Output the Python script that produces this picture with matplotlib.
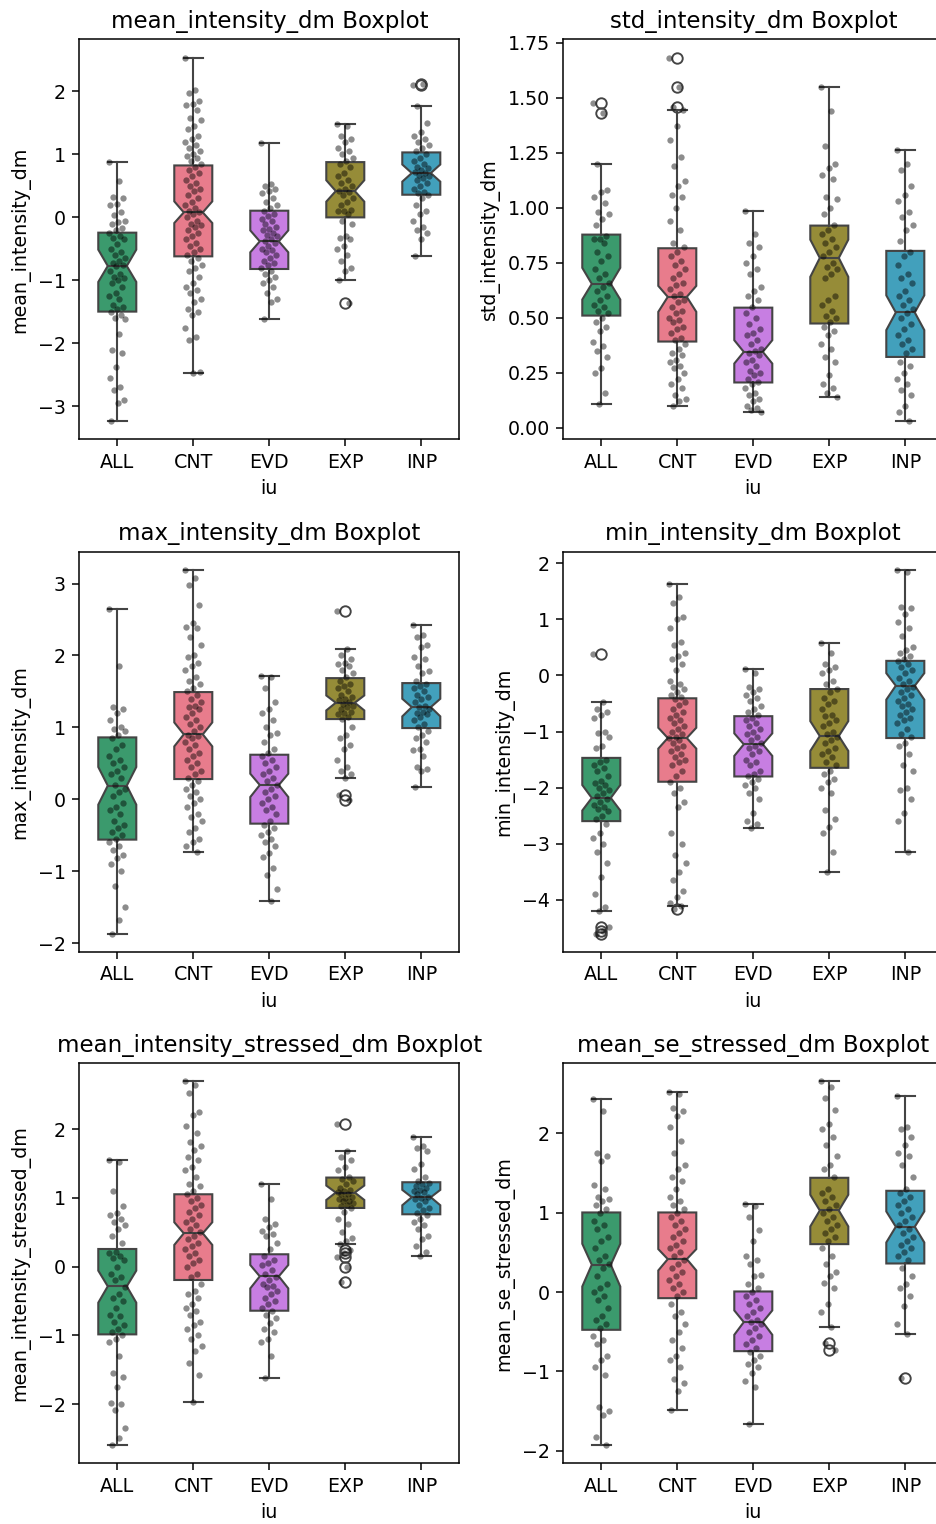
import numpy as np
import matplotlib
matplotlib.use("Agg")
import matplotlib.pyplot as plt

groups = ['ALL', 'CNT', 'EVD', 'EXP', 'INP']
metrics = ['mean_intensity_dm', 'std_intensity_dm', 'max_intensity_dm',
           'min_intensity_dm', 'mean_intensity_stressed_dm', 'mean_se_stressed_dm']
colors = ['#3b9a6d', '#e87c8c', '#c77ee2', '#968c38', '#42a0bc']

# box statistics, one row per metric, one column per group
med = [[-0.772, 0.079, -0.381, 0.418, 0.704],
       [0.654, 0.595, 0.345, 0.772, 0.524],
       [0.190, 0.903, 0.199, 1.343, 1.282],
       [-2.183, -1.115, -1.227, -1.080, -0.183],
       [-0.286, 0.485, -0.141, 1.078, 1.010],
       [0.345, 0.416, -0.378, 1.029, 0.824]]
q1 = [[-1.497, -0.619, -0.820, 0.0, 0.360],
      [0.510, 0.392, 0.206, 0.474, 0.322],
      [-0.560, 0.282, -0.338, 1.116, 0.991],
      [-2.596, -1.894, -1.800, -1.646, -1.115],
      [-0.985, -0.194, -0.641, 0.854, 0.762],
      [-0.475, -0.076, -0.744, 0.605, 0.361]]
q3 = [[-0.243, 0.825, 0.106, 0.878, 1.032],
      [0.878, 0.816, 0.546, 0.919, 0.804],
      [0.861, 1.491, 0.620, 1.685, 1.616],
      [-1.469, -0.407, -0.726, -0.242, 0.260],
      [0.257, 1.053, 0.180, 1.296, 1.228],
      [1.004, 1.004, 0.008, 1.441, 1.277]]
whislo = [[-3.238, -2.476, -1.619, -1.0, -0.619],
          [0.106, 0.100, 0.073, 0.142, 0.030],
          [-1.866, -0.736, -1.412, 0.292, 0.171],
          [-4.195, -4.100, -2.714, -3.504, -3.150],
          [-2.597, -1.976, -1.621, 0.330, 0.155],
          [-1.929, -1.492, -1.664, -0.437, -0.529]]
whishi = [[0.878, 2.54, 1.185, 1.476, 1.772],
          [1.199, 1.445, 0.984, 1.549, 1.264],
          [2.644, 3.19, 1.713, 2.088, 2.426],
          [-0.466, 1.622, 0.118, 0.572, 1.882],
          [1.558, 2.694, 1.204, 1.684, 1.888],
          [2.433, 2.517, 1.113, 2.655, 2.475]]
notch_lo = [[-1.026, -0.09, -0.555, 0.25, 0.568],
            [0.583, 0.527, 0.292, 0.686, 0.444],
            [-0.074, 0.736, 0.032, 1.236, 1.153],
            [-2.407, -1.304, -1.434, -1.345, -0.431],
            [-0.524, 0.316, -0.316, 0.97, 0.893],
            [0.071, 0.273, -0.538, 0.828, 0.626]]
notch_hi = [[-0.513, 0.254, -0.207, 0.59, 0.84],
            [0.727, 0.645, 0.398, 0.855, 0.602],
            [0.449, 1.069, 0.356, 1.444, 1.398],
            [-1.953, -0.932, -1.032, -0.814, 0.041],
            [-0.058, 0.646, 0.024, 1.18, 1.117],
            [0.609, 0.542, -0.231, 1.227, 1.017]]
fliers = [[[], [], [], [-1.354], [2.10, 2.12]],
          [[1.476, 1.432], [1.683, 1.55, 1.457], [], [], []],
          [[], [], [], [2.625, 0.056, -0.014], []],
          [[0.383, -4.49, -4.55, -4.60], [-4.159], [], [], []],
          [[], [], [], [2.073, 0.243, 0.194, 0.136, 0.0, -0.218], []],
          [[], [], [], [-0.643, -0.735], [-1.08]]]

# individual observations (approximate), per group
mean_int_pts = [
    [0.878, 0.58, 0.33, 0.30, 0.22, 0.2, 0.08, 0.04, -0.06, -0.08, -0.1, -0.17, -0.2, -0.25, -0.3, -0.33,
     -0.35, -0.42, -0.5, -0.55, -0.6, -0.65, -0.7, -0.72, -0.75, -0.78, -0.85, -0.9, -0.95, -0.97, -1.0,
     -1.05, -1.1, -1.2, -1.25, -1.3, -1.4, -1.43, -1.45, -1.5, -1.55, -1.6, -1.62, -1.85, -2.1, -2.15,
     -2.38, -2.55, -2.7, -2.75, -2.9, -2.95, -3.238],
    [2.54, 2.02, 1.98, 1.85, 1.8, 1.78, 1.7, 1.58, 1.55, 1.45, 1.4, 1.3, 1.25, 1.2, 1.15, 1.1, 1.05, 1.0,
     0.98, 0.95, 0.9, 0.85, 0.8, 0.75, 0.7, 0.65, 0.6, 0.55, 0.5, 0.45, 0.42, 0.35, 0.3, 0.25, 0.2, 0.15,
     0.1, 0.08, 0.05, 0.0, -0.05, -0.1, -0.12, -0.15, -0.2, -0.25, -0.3, -0.35, -0.4, -0.45, -0.5, -0.55,
     -0.6, -0.65, -0.7, -0.75, -0.8, -0.85, -0.95, -1.05, -1.1, -1.15, -1.2, -1.3, -1.35, -1.45, -1.5,
     -1.55, -1.75, -1.9, -1.95, -2.45, -2.476],
    [1.185, 0.53, 0.5, 0.45, 0.42, 0.38, 0.3, 0.25, 0.2, 0.15, 0.1, 0.05, 0.02, -0.02, -0.05, -0.1, -0.15,
     -0.18, -0.2, -0.25, -0.28, -0.3, -0.35, -0.38, -0.4, -0.45, -0.5, -0.52, -0.55, -0.6, -0.65, -0.7,
     -0.72, -0.75, -0.8, -0.85, -0.9, -0.95, -1.0, -1.05, -1.1, -1.2, -1.3, -1.35, -1.619],
    [1.476, 1.45, 1.3, 1.25, 1.2, 1.1, 1.05, 1.0, 0.95, 0.9, 0.85, 0.8, 0.7, 0.65, 0.6, 0.55, 0.5, 0.45,
     0.42, 0.4, 0.35, 0.3, 0.25, 0.2, 0.12, 0.1, 0.1, 0.05, -0.05, -0.1, -0.3, -0.32, -0.35, -0.45, -0.5,
     -0.6, -0.7, -0.8, -0.85, -1.0, -1.354],
    [2.10, 2.12, 1.772, 1.5, 1.35, 1.3, 1.25, 1.2, 1.15, 1.1, 1.05, 1.0, 0.95, 0.9, 0.85, 0.8, 0.78, 0.75,
     0.72, 0.7, 0.68, 0.65, 0.62, 0.6, 0.55, 0.5, 0.45, 0.4, 0.38, 0.35, 0.3, 0.2, 0.1, 0.05, -0.05, -0.15,
     -0.2, -0.25, -0.35, -0.619]]

std_int_pts = [
    [1.476, 1.432, 1.199, 1.08, 1.07, 1.05, 1.02, 0.98, 0.97, 0.95, 0.92, 0.87, 0.86, 0.86, 0.84, 0.8,
     0.78, 0.76, 0.72, 0.7, 0.68, 0.66, 0.64, 0.62, 0.6, 0.58, 0.56, 0.55, 0.53, 0.52, 0.5, 0.48, 0.46,
     0.44, 0.39, 0.37, 0.35, 0.32, 0.27, 0.25, 0.16, 0.106],
    [1.683, 1.55, 1.457, 1.445, 1.37, 1.31, 1.23, 1.19, 1.12, 1.1, 1.06, 1.05, 1.0, 0.94, 0.9, 0.84,
     0.82, 0.8, 0.78, 0.76, 0.74, 0.72, 0.7, 0.68, 0.66, 0.65, 0.63, 0.61, 0.6, 0.58, 0.57, 0.55, 0.53,
     0.52, 0.5, 0.49, 0.48, 0.46, 0.45, 0.43, 0.41, 0.4, 0.38, 0.36, 0.34, 0.33, 0.31, 0.3, 0.28, 0.27,
     0.25, 0.22, 0.2, 0.18, 0.15, 0.13, 0.12, 0.1],
    [0.984, 0.88, 0.84, 0.82, 0.78, 0.75, 0.72, 0.7, 0.64, 0.62, 0.6, 0.58, 0.55, 0.52, 0.5, 0.47, 0.45,
     0.43, 0.42, 0.4, 0.38, 0.36, 0.35, 0.34, 0.33, 0.31, 0.3, 0.28, 0.26, 0.25, 0.24, 0.22, 0.21, 0.2,
     0.18, 0.16, 0.15, 0.13, 0.12, 0.1, 0.09, 0.08, 0.073],
    [1.549, 1.44, 1.28, 1.2, 1.18, 1.15, 1.13, 1.05, 1.04, 1.0, 0.97, 0.92, 0.9, 0.88, 0.86, 0.84, 0.82,
     0.8, 0.78, 0.75, 0.73, 0.72, 0.7, 0.68, 0.6, 0.58, 0.56, 0.53, 0.51, 0.5, 0.48, 0.46, 0.44, 0.42,
     0.38, 0.36, 0.32, 0.3, 0.24, 0.2, 0.18, 0.16, 0.142],
    [1.264, 1.2, 1.17, 1.1, 1.06, 1.03, 0.98, 0.96, 0.92, 0.9, 0.85, 0.8, 0.78, 0.74, 0.7, 0.68, 0.66,
     0.62, 0.6, 0.58, 0.56, 0.54, 0.52, 0.5, 0.47, 0.45, 0.42, 0.4, 0.38, 0.36, 0.34, 0.3, 0.28, 0.25,
     0.22, 0.2, 0.17, 0.15, 0.1, 0.07, 0.03]]

max_int_pts = [
    [2.644, 1.85, 1.28, 1.25, 1.2, 1.1, 1.0, 0.98, 0.95, 0.9, 0.85, 0.75, 0.7, 0.6, 0.55, 0.5, 0.45, 0.4,
     0.35, 0.3, 0.2, 0.15, 0.1, 0.05, -0.05, -0.1, -0.15, -0.2, -0.3, -0.35, -0.4, -0.45, -0.5, -0.55,
     -0.6, -0.65, -0.7, -0.78, -0.82, -0.9, -1.0, -1.2, -1.5, -1.68, -1.866],
    [3.19, 3.08, 2.98, 2.7, 2.45, 2.4, 2.38, 2.25, 2.15, 2.0, 1.98, 1.9, 1.85, 1.8, 1.7, 1.65, 1.6, 1.55,
     1.5, 1.45, 1.4, 1.35, 1.3, 1.28, 1.25, 1.2, 1.15, 1.1, 1.05, 1.0, 0.95, 0.9, 0.88, 0.85, 0.8, 0.75,
     0.7, 0.65, 0.6, 0.55, 0.5, 0.45, 0.4, 0.35, 0.3, 0.25, 0.2, 0.15, 0.1, 0.05, 0.0, -0.05, -0.1, -0.2,
     -0.25, -0.3, -0.4, -0.45, -0.55, -0.6, -0.65, -0.736],
    [1.713, 1.7, 1.55, 1.35, 1.25, 1.2, 1.1, 1.0, 0.92, 0.9, 0.8, 0.7, 0.65, 0.6, 0.55, 0.5, 0.45, 0.4,
     0.35, 0.3, 0.25, 0.2, 0.15, 0.1, 0.05, 0.0, -0.05, -0.1, -0.15, -0.2, -0.3, -0.35, -0.4, -0.45, -0.5,
     -0.55, -0.6, -0.65, -0.75, -0.8, -0.95, -1.05, -1.25, -1.412],
    [2.625, 2.088, 2.0, 1.95, 1.9, 1.88, 1.85, 1.8, 1.75, 1.7, 1.65, 1.6, 1.58, 1.55, 1.5, 1.45, 1.42,
     1.4, 1.38, 1.35, 1.32, 1.3, 1.28, 1.25, 1.22, 1.2, 1.18, 1.15, 1.12, 1.0, 0.9, 0.85, 0.75, 0.7, 0.55,
     0.45, 0.4, 0.35, 0.292, 0.056, -0.014],
    [2.426, 2.28, 2.25, 2.15, 2.12, 1.98, 1.95, 1.85, 1.78, 1.75, 1.65, 1.6, 1.58, 1.55, 1.5, 1.45, 1.42,
     1.4, 1.35, 1.3, 1.28, 1.25, 1.22, 1.2, 1.18, 1.15, 1.1, 1.05, 1.0, 0.95, 0.9, 0.85, 0.8, 0.7, 0.68,
     0.6, 0.45, 0.42, 0.4, 0.171]]

min_int_pts = [
    [0.383, -0.466, -0.6, -0.65, -0.7, -0.75, -1.0, -1.02, -1.1, -1.25, -1.3, -1.5, -1.55, -1.6, -1.65,
     -1.7, -1.8, -1.88, -1.92, -1.95, -2.0, -2.05, -2.1, -2.15, -2.2, -2.25, -2.3, -2.35, -2.38, -2.42,
     -2.5, -2.55, -2.65, -2.8, -2.9, -3.0, -3.15, -3.35, -3.6, -3.9, -4.12, -4.195, -4.49, -4.55, -4.60],
    [1.622, 1.4, 1.3, 1.05, 1.0, 0.85, 0.6, 0.55, 0.4, 0.35, 0.3, 0.2, 0.1, -0.1, -0.15, -0.2, -0.25,
     -0.3, -0.35, -0.38, -0.42, -0.48, -0.52, -0.6, -0.65, -0.7, -0.75, -0.8, -0.85, -0.9, -0.95, -1.0,
     -1.05, -1.1, -1.12, -1.15, -1.2, -1.25, -1.3, -1.35, -1.4, -1.45, -1.5, -1.55, -1.6, -1.7, -1.8,
     -1.9, -2.0, -2.1, -2.25, -2.35, -2.8, -3.0, -3.2, -3.35, -3.5, -3.65, -3.85, -3.95, -4.05, -4.1,
     -4.159],
    [0.118, 0.05, -0.2, -0.25, -0.3, -0.35, -0.4, -0.45, -0.55, -0.6, -0.65, -0.7, -0.75, -0.8, -0.85,
     -0.9, -0.95, -1.0, -1.05, -1.1, -1.15, -1.2, -1.25, -1.3, -1.35, -1.4, -1.5, -1.55, -1.6, -1.7,
     -1.75, -1.8, -1.85, -1.9, -1.95, -2.0, -2.1, -2.2, -2.45, -2.6, -2.65, -2.714],
    [0.572, 0.4, 0.2, 0.15, 0.1, 0.05, -0.1, -0.15, -0.25, -0.3, -0.4, -0.45, -0.5, -0.6, -0.7, -0.72,
     -0.8, -0.85, -0.9, -1.0, -1.05, -1.1, -1.15, -1.2, -1.3, -1.35, -1.4, -1.45, -1.55, -1.6, -1.7,
     -1.75, -1.85, -1.9, -2.0, -2.1, -2.4, -2.55, -2.7, -2.8, -3.15, -3.504],
    [1.882, 1.85, 1.22, 1.2, 1.1, 0.95, 0.85, 0.7, 0.5, 0.45, 0.4, 0.35, 0.3, 0.25, 0.2, 0.15, 0.1, 0.05,
     -0.05, -0.1, -0.15, -0.2, -0.25, -0.3, -0.35, -0.4, -0.45, -0.5, -0.55, -0.6, -0.65, -0.7, -0.75,
     -0.8, -0.85, -0.95, -1.05, -1.1, -1.2, -1.25, -1.4, -1.6, -1.7, -2.0, -2.05, -2.2, -2.45, -2.6, -3.15]]

mean_stress_pts = [
    [1.558, 1.52, 1.1, 0.88, 0.78, 0.75, 0.7, 0.65, 0.6, 0.55, 0.45, 0.35, 0.22, 0.2, 0.15, 0.12, 0.1,
     0.0, -0.1, -0.15, -0.2, -0.3, -0.4, -0.45, -0.5, -0.6, -0.7, -0.72, -0.8, -0.85, -0.9, -0.95, -1.0,
     -1.05, -1.1, -1.3, -1.55, -1.6, -1.75, -1.98, -2.0, -2.08, -2.35, -2.5, -2.597],
    [2.694, 2.65, 2.52, 2.25, 2.2, 2.05, 1.95, 1.82, 1.75, 1.7, 1.6, 1.55, 1.45, 1.4, 1.3, 1.2, 1.18, 1.1,
     1.05, 1.0, 0.95, 0.9, 0.85, 0.8, 0.75, 0.7, 0.65, 0.6, 0.55, 0.5, 0.45, 0.4, 0.35, 0.3, 0.25, 0.2,
     0.15, 0.1, 0.05, 0.0, -0.1, -0.15, -0.25, -0.35, -0.4, -0.45, -0.55, -0.6, -0.65, -0.7, -0.8, -0.85,
     -0.9, -1.0, -1.05, -1.15, -1.22, -1.4, -1.58, -1.976],
    [1.204, 0.98, 0.7, 0.62, 0.58, 0.52, 0.48, 0.45, 0.35, 0.25, 0.15, 0.1, 0.05, 0.02, -0.05, -0.1,
     -0.15, -0.2, -0.25, -0.28, -0.3, -0.35, -0.4, -0.45, -0.5, -0.55, -0.6, -0.65, -0.7, -0.75, -0.82,
     -0.9, -0.95, -1.05, -1.1, -1.3, -1.621],
    [2.073, 1.684, 1.6, 1.55, 1.45, 1.4, 1.3, 1.28, 1.25, 1.2, 1.15, 1.12, 1.1, 1.08, 1.06, 1.05, 1.02,
     1.0, 0.98, 0.96, 0.95, 0.92, 0.9, 0.88, 0.85, 0.8, 0.7, 0.62, 0.5, 0.42, 0.38, 0.33, 0.243, 0.194,
     0.136, 0.0, -0.218],
    [1.888, 1.75, 1.72, 1.68, 1.5, 1.42, 1.3, 1.25, 1.22, 1.2, 1.18, 1.15, 1.12, 1.1, 1.08, 1.05, 1.02,
     1.0, 0.98, 0.95, 0.9, 0.85, 0.82, 0.78, 0.75, 0.7, 0.65, 0.6, 0.55, 0.45, 0.4, 0.3, 0.22, 0.155]]

se_stress_pts = [
    [2.433, 2.28, 1.75, 1.72, 1.65, 1.35, 1.3, 1.2, 1.18, 1.15, 1.1, 1.05, 1.0, 0.9, 0.85, 0.8, 0.7,
     0.65, 0.55, 0.45, 0.4, 0.35, 0.3, 0.2, 0.1, 0.05, 0.0, -0.05, -0.1, -0.2, -0.3, -0.35, -0.4, -0.45,
     -0.55, -0.6, -0.65, -0.8, -0.85, -0.95, -1.05, -1.45, -1.5, -1.55, -1.82, -1.929],
    [2.517, 2.5, 2.32, 2.28, 2.22, 2.08, 1.9, 1.75, 1.6, 1.55, 1.45, 1.4, 1.3, 1.2, 1.15, 1.1, 1.05, 1.0,
     0.95, 0.9, 0.85, 0.8, 0.75, 0.7, 0.65, 0.6, 0.55, 0.5, 0.45, 0.4, 0.35, 0.3, 0.25, 0.2, 0.15, 0.1,
     0.05, 0.0, -0.05, -0.15, -0.25, -0.3, -0.4, -0.5, -0.6, -0.7, -0.8, -0.85, -0.95, -1.1, -1.15,
     -1.25, -1.492],
    [1.113, 1.08, 0.95, 0.78, 0.65, 0.45, 0.4, 0.35, 0.22, 0.2, 0.1, 0.05, 0.0, -0.05, -0.1, -0.15, -0.2,
     -0.25, -0.3, -0.35, -0.38, -0.4, -0.45, -0.5, -0.55, -0.6, -0.65, -0.7, -0.75, -0.8, -0.85, -0.9,
     -0.95, -1.02, -1.12, -1.2, -1.664],
    [2.655, 2.58, 2.45, 2.3, 2.12, 2.05, 1.95, 1.85, 1.72, 1.6, 1.55, 1.45, 1.3, 1.25, 1.2, 1.15, 1.1,
     1.05, 1.0, 0.95, 0.9, 0.85, 0.8, 0.75, 0.7, 0.65, 0.55, 0.45, 0.35, 0.25, 0.2, 0.12, 0.05, -0.15,
     -0.25, -0.437, -0.643, -0.735],
    [2.475, 2.08, 2.05, 1.95, 1.85, 1.75, 1.72, 1.6, 1.45, 1.3, 1.25, 1.2, 1.15, 1.1, 1.05, 1.0, 0.95,
     0.9, 0.85, 0.8, 0.75, 0.7, 0.65, 0.6, 0.55, 0.5, 0.45, 0.4, 0.3, 0.2, 0.1, 0.05, -0.05, -0.18, -0.4,
     -0.529, -1.08]]

points = [mean_int_pts, std_int_pts, max_int_pts, min_int_pts, mean_stress_pts, se_stress_pts]

DPI = 137
fig = plt.figure(figsize=(936 / DPI, 1524 / DPI), dpi=DPI)

lefts = [0.0847, 0.6018]
bottoms = [0.7117, 0.3755, 0.0398]
w, h = 0.406, 0.2625
line_col = '#444444'

for k, metric in enumerate(metrics):
    ax = fig.add_axes([lefts[k % 2], bottoms[k // 2], w, h])
    stats = []
    for g in range(5):
        stats.append(dict(med=med[k][g], q1=q1[k][g], q3=q3[k][g],
                          whislo=whislo[k][g], whishi=whishi[k][g],
                          cilo=notch_lo[k][g], cihi=notch_hi[k][g],
                          fliers=fliers[k][g], label=groups[g]))
    bp = ax.bxp(stats, positions=range(5), widths=0.5, shownotches=True, patch_artist=True,
                boxprops=dict(edgecolor=line_col, linewidth=1.1),
                medianprops=dict(color=line_col, linewidth=1.1),
                whiskerprops=dict(color=line_col, linewidth=1.1),
                capprops=dict(color=line_col, linewidth=1.1),
                flierprops=dict(marker='o', markerfacecolor='none', markeredgecolor=line_col,
                                markersize=5.5, markeredgewidth=1.0))
    for patch, c in zip(bp['boxes'], colors):
        patch.set_facecolor(c)

    # strip points with a fixed, evenly spread horizontal jitter
    for g in range(5):
        vals = np.array(points[k][g])
        jit = ((np.arange(len(vals)) * 0.618034) % 1 - 0.5) * 0.22
        ax.scatter(g + jit, vals, s=11, color='black', alpha=0.45, linewidths=0, zorder=3)

    ax.set_xlim(-0.5, 4.5)
    ax.set_xticks(range(5))
    ax.set_xticklabels(groups)
    ax.set_title(f'{metric} Boxplot', fontsize=12)
    ax.set_xlabel('iu')
    ax.set_ylabel(metric)

fig.savefig('out.png', dpi=DPI)
